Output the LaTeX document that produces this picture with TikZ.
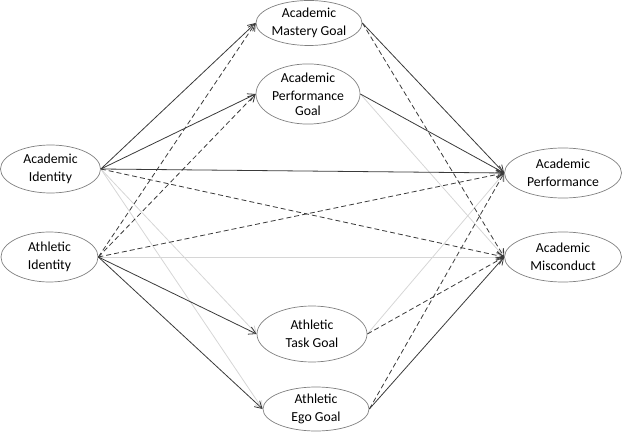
\documentclass[tikz,border=0pt]{standalone}
\usepackage{fontspec}
\setmainfont{Carlito}
\usetikzlibrary{shapes.geometric,arrows.meta}
\definecolor{darkline}{HTML}{3A3A3A}
\definecolor{lightline}{HTML}{D6D6D6}
\definecolor{ellline}{HTML}{808080}
\tikzset{
  oval/.style={ellipse,draw=ellline,line width=0.7bp,inner sep=0pt,align=center,
    font=\fontsize{13.8}{18}\selectfont},
  path/.style={line width=0.8bp,darkline,-{Straight Barb[length=7bp,width=8bp]}},
  dashpath/.style={path,dash pattern=on 5bp off 3bp},
  lightpath/.style={path,lightline},
}
\begin{document}
\begin{tikzpicture}[x=1bp,y=-1bp]
\useasboundingbox (0,0) rectangle (622,436);
\node[oval,minimum width=100bp,minimum height=48bp] (ai) at (50.5,169) {Academic\\Identity};
\node[oval,minimum width=97bp,minimum height=50bp] (ati) at (49.5,257) {Athletic\\Identity};
\node[oval,minimum width=106bp,minimum height=45bp] (amg) at (309,23) {Academic\\Mastery Goal};
\node[oval,minimum width=104bp,minimum height=49bp] (apg) at (308,94) {Academic\\Performance\\[-3pt]Goal};
\node[oval,minimum width=110bp,minimum height=56bp] (atg) at (312,334) {Athletic\\Task Goal};
\node[oval,minimum width=106bp,minimum height=44bp] (aeg) at (316,409) {Athletic\\Ego Goal};
\node[oval,minimum width=117bp,minimum height=50bp] (ap) at (563,173) {Academic\\Performance};
\node[oval,minimum width=117bp,minimum height=50bp] (am) at (563,257) {Academic\\Misconduct};
% light lines first
\draw[lightpath] (ai.east) -- (atg.west);
\draw[lightpath] (ai.east) -- (aeg.west);
\draw[lightpath] (ati.east) -- (am.west);
\draw[lightpath] (apg.east) -- (am.west);
\draw[lightpath] (atg.east) -- (ap.west);
% academic identity
\draw[path] (ai.east) -- (amg.west);
\draw[path] (ai.east) -- (apg.west);
\draw[path] (ai.east) -- (ap.west);
\draw[dashpath] (ai.east) -- (am.west);
% athletic identity
\draw[dashpath] (ati.east) -- (amg.west);
\draw[dashpath] (ati.east) -- (apg.west);
\draw[dashpath] (ati.east) -- (ap.west);
\draw[path] (ati.east) -- (atg.west);
\draw[path] (ati.east) -- (aeg.west);
% mediators
\draw[path] (amg.east) -- (ap.west);
\draw[dashpath] (amg.east) -- (am.west);
\draw[path] (apg.east) -- (ap.west);
\draw[dashpath] (atg.east) -- (am.west);
\draw[dashpath] (aeg.east) -- (ap.west);
\draw[path] (aeg.east) -- (am.west);
\end{tikzpicture}
\end{document}
